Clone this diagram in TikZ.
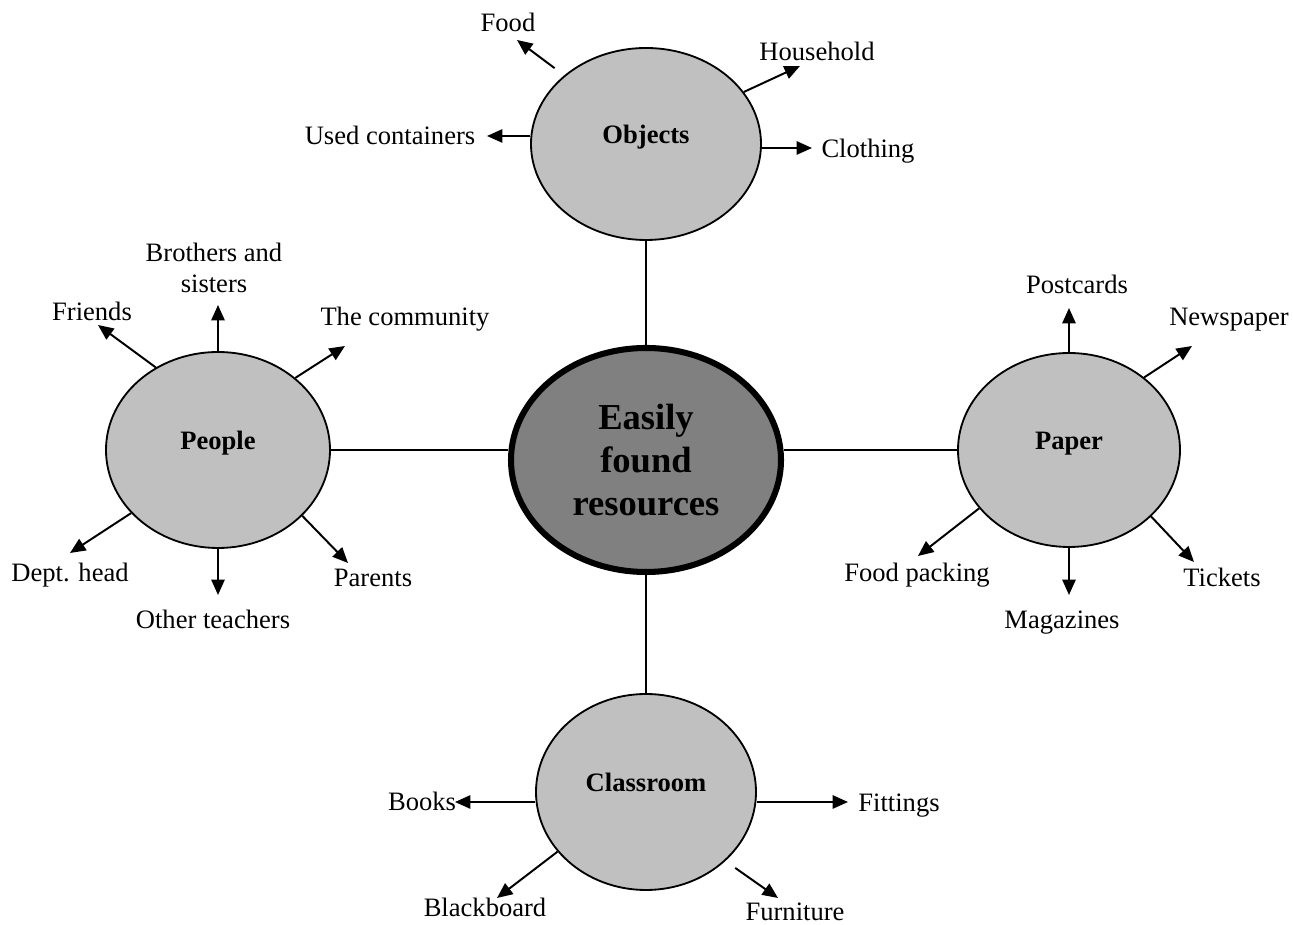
\documentclass[tikz,border=0pt]{standalone}
\usepackage{fontspec}
\setmainfont{Liberation Serif}
\usetikzlibrary{shapes.geometric,arrows.meta}
\definecolor{hubgray}{RGB}{128,128,128}
\definecolor{catgray}{RGB}{192,192,192}

\begin{document}
\begin{tikzpicture}[
  lbl/.style={anchor=base, inner sep=0pt, font=\fontsize{18.9}{22}\selectfont},
  cat/.style={ellipse, draw, line width=1.3pt, fill=catgray, inner sep=0pt,
    text height=9pt, text depth=9pt, font=\bfseries\fontsize{18.9}{22}\selectfont},
  hubnode/.style={ellipse, draw, line width=4.3pt, fill=hubgray, inner sep=0pt,
    align=center, font=\bfseries\fontsize{26}{30.6}\selectfont},
  arr/.style={-{Triangle[length=11pt,width=9.5pt]}, line width=1.4pt},
  link/.style={line width=1.3pt}
]
\useasboundingbox (0,0) rectangle (32.325,23.125);

% centre and the four groups
\node[hubnode, minimum width=6.75cm, minimum height=5.6cm] (hub) at (16.15,11.625) {Easily\\found\\resources};
\node[cat, minimum width=5.75cm, minimum height=4.8cm] (objects) at (16.15,19.525) {Objects};
\node[cat, minimum width=5.6cm, minimum height=4.9cm] (people) at (5.45,11.875) {People};
\node[cat, minimum width=5.55cm, minimum height=4.85cm] (paper) at (26.725,11.875) {Paper};
\node[cat, minimum width=5.5cm, minimum height=4.9cm] (classroom) at (16.15,3.325) {Classroom};

\draw[link] (objects) -- (hub);
\draw[link] (hub) -- (classroom);
\draw[link] (people.east) -- (people.east -| hub.west);
\draw[link] (paper.west) -- (paper.west -| hub.east);

% objects
\node[lbl] (food) at (12.7,22.325) {Food};
\node[lbl] (household) at (20.425,21.6) {Household};
\node[lbl] (containers) at (9.75,19.5) {Used containers};
\node[lbl] (clothing) at (21.7,19.175) {Clothing};
\coordinate (t-food) at (12.925,22.125);
\coordinate (t-household) at (20.0,21.475);
\coordinate (t-containers) at (12.175,19.725);
\coordinate (t-clothing) at (20.3,19.425);
\draw[arr, shorten <=0.3cm] (objects.140) -- (t-food);
\draw[arr] (objects.28) -- (t-household);
\draw[arr] (t-containers -| objects.west) -- (t-containers);
\draw[arr] (t-clothing -| objects.east) -- (t-clothing);

% people
\node[lbl] (friends) at (2.3,15.1) {Friends};
\node[lbl, anchor=center, align=center] (siblings) at (5.35,16.425) {Brothers and\\sisters};
\node[lbl] (community) at (10.125,14.975) {The community};
\node[lbl] (depthead) at (1.75,8.575) {Dept. head};
\node[lbl] (teachers) at (5.325,7.4) {Other teachers};
\node[lbl] (parents) at (9.325,8.45) {Parents};
\coordinate (t-friends) at (2.45,15.0);
\coordinate (t-siblings) at (5.45,15.5);
\coordinate (t-community) at (8.625,14.475);
\coordinate (t-depthead) at (1.75,9.3);
\coordinate (t-teachers) at (5.45,8.25);
\coordinate (t-parents) at (8.7,9.05);
\draw[arr] (people.127) -- (t-friends);
\draw[arr] (people.north) -- (t-siblings);
\draw[arr] (people.43) -- (t-community);
\draw[arr] (people.216) -- (t-depthead);
\draw[arr] (people.south) -- (t-teachers);
\draw[arr] (people.-38) -- (t-parents);

% paper
\node[lbl] (postcards) at (26.925,15.775) {Postcards};
\node[lbl] (newspaper) at (30.725,14.975) {Newspaper};
\node[lbl] (packing) at (22.925,8.575) {Food packing};
\node[lbl] (magazines) at (26.55,7.4) {Magazines};
\node[lbl] (tickets) at (30.55,8.45) {Tickets};
\coordinate (t-postcards) at (26.725,15.425);
\coordinate (t-newspaper) at (29.8,14.475);
\coordinate (t-packing) at (22.95,9.225);
\coordinate (t-magazines) at (26.725,8.25);
\coordinate (t-tickets) at (29.85,9.075);
\draw[arr] (paper.north) -- (t-postcards);
\draw[arr] (paper.44) -- (t-newspaper);
\draw[arr] (paper.213) -- (t-packing);
\draw[arr] (paper.south) -- (t-magazines);
\draw[arr] (paper.-39) -- (t-tickets);

% classroom
\node[lbl] (books) at (10.55,2.85) {Books};
\node[lbl] (fittings) at (22.475,2.825) {Fittings};
\node[lbl] (blackboard) at (12.125,0.2) {Blackboard};
\node[lbl] (furniture) at (19.875,0.1) {Furniture};
\coordinate (t-books) at (11.375,3.075);
\coordinate (t-fittings) at (21.2,3.075);
\coordinate (t-blackboard) at (12.425,0.675);
\coordinate (t-furniture) at (19.45,0.675);
\draw[arr] (t-books -| classroom.west) -- (t-books);
\draw[arr] (t-fittings -| classroom.east) -- (t-fittings);
\draw[arr] (classroom.214) -- (t-blackboard);
\draw[arr, shorten <=0.3cm] (classroom.-41) -- (t-furniture);
\end{tikzpicture}
\end{document}
